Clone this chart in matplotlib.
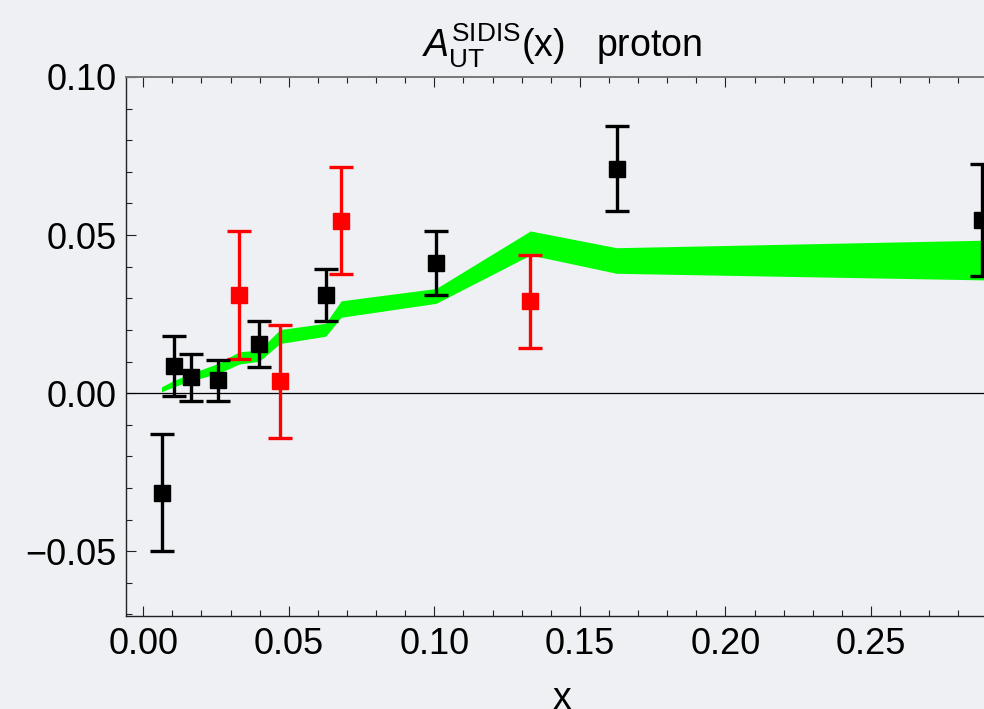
import matplotlib
matplotlib.use("Agg")
import matplotlib.pyplot as plt
from matplotlib.ticker import MultipleLocator, FuncFormatter

plt.rcParams['font.family'] = ['Liberation Sans', 'DejaVu Sans']
plt.rcParams['mathtext.fontset'] = 'custom'
plt.rcParams['mathtext.rm'] = 'Liberation Sans'
plt.rcParams['mathtext.it'] = 'Liberation Sans:italic'

# COMPASS proton points (black)
compass_x = [0.0063, 0.0105, 0.0164, 0.0257, 0.0399, 0.0627, 0.1006, 0.1626, 0.2880]
compass_y = [-0.0315, 0.0085, 0.0050, 0.0040, 0.0155, 0.0310, 0.0412, 0.0710, 0.0548]
compass_err = [0.0185, 0.0095, 0.0074, 0.0065, 0.0072, 0.0083, 0.0101, 0.0135, 0.0178]

# HERMES proton points (red)
hermes_x = [0.033, 0.047, 0.068, 0.133]
hermes_y = [0.031, 0.0037, 0.0545, 0.029]
hermes_err = [0.0203, 0.0180, 0.0169, 0.0148]

# model band (green)
band_x = [0.0063, 0.0105, 0.0164, 0.0257, 0.033, 0.0399, 0.047, 0.0627, 0.068,
          0.1006, 0.133, 0.1626, 0.290]
band_hi = [0.0020, 0.0040, 0.0062, 0.0094, 0.0131, 0.0136, 0.0201, 0.0221, 0.0292,
           0.0331, 0.0513, 0.0460, 0.0484]
band_lo = [0.0004, 0.0020, 0.0039, 0.0062, 0.0092, 0.0101, 0.0157, 0.0180, 0.0240,
           0.0284, 0.0437, 0.0379, 0.0358]

bg = '#eff0f4'
fig = plt.figure(figsize=(9.84, 7.09), dpi=100, facecolor=bg)
W, H = 984, 709
ax = fig.add_axes([126 / W, (H - 615.7) / H, (997 - 126) / W, (615.7 - 77) / H])
ax.set_facecolor(bg)

ax.fill_between(band_x, band_lo, band_hi, color='#00ff00', lw=0, zorder=1)
ax.axhline(0, color='black', lw=0.9, zorder=2)

ebar = dict(fmt='s', markersize=11.5, elinewidth=2.4, capsize=8.4, capthick=2.4, zorder=3)
ax.errorbar(hermes_x, hermes_y, yerr=hermes_err, color='#ff0000', **ebar)
ax.errorbar(compass_x, compass_y, yerr=compass_err, color='black', **ebar)

ax.set_xlim(-0.0059, 0.2933)
ax.set_ylim(-0.0704, 0.10)

fmt = FuncFormatter(lambda v, p: f"{round(v, 4):.2f}".replace('-', '\u2212'))
ax.xaxis.set_major_locator(MultipleLocator(0.05))
ax.xaxis.set_minor_locator(MultipleLocator(0.01))
ax.yaxis.set_major_locator(MultipleLocator(0.05))
ax.yaxis.set_minor_locator(MultipleLocator(0.01))
ax.xaxis.set_major_formatter(fmt)
ax.yaxis.set_major_formatter(fmt)

ax.tick_params(which='both', direction='in', top=True, right=False, labelsize=26,
               width=0.8, color='#222222')
ax.tick_params(which='major', length=7.2)
ax.tick_params(which='minor', length=4.3)
ax.tick_params(axis='x', pad=8)
ax.tick_params(axis='y', pad=7)

for side in ['left', 'bottom']:
    ax.spines[side].set_color('#222222')
    ax.spines[side].set_linewidth(1.0)
ax.spines['top'].set_color('#777777')
ax.spines['top'].set_linewidth(1.4)
ax.spines['right'].set_visible(False)

ax.set_xlabel('x', fontsize=27, labelpad=14)
ax.set_title(r"$A_{\mathrm{UT}}^{\mathrm{SIDIS}}$(x)   proton", fontsize=27, pad=14)

fig.savefig('out.png', dpi=100, facecolor=bg)
